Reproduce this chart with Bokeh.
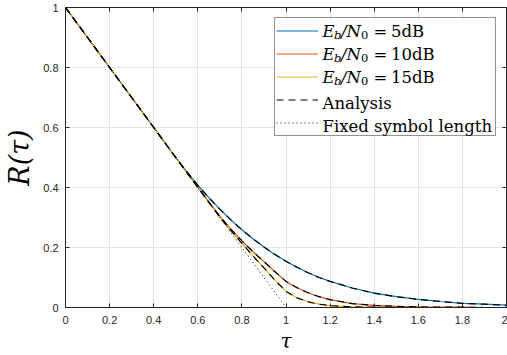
from bokeh.plotting import figure
from bokeh.models import (Range1d, FixedTicker, LinearAxis, Legend, LegendItem,
                          Label, CustomJSTickFormatter, BoxAnnotation)
from bokeh.embed import file_html
from bokeh.resources import INLINE

# ---------------- data ----------------
tau = [0.0, 0.1, 0.2, 0.3, 0.4, 0.5, 0.55, 0.6, 0.65, 0.7, 0.75, 0.8, 0.85, 0.9,
       0.95, 1.0, 1.05, 1.1, 1.15, 1.2, 1.3, 1.4, 1.5, 1.6, 1.7, 1.8, 1.9, 2.0]
r_5db = [1.0, 0.9, 0.8, 0.7, 0.6, 0.5, 0.453, 0.408, 0.366, 0.328, 0.292, 0.259,
         0.229, 0.202, 0.177, 0.154, 0.134, 0.116, 0.100, 0.087, 0.065, 0.048,
         0.036, 0.027, 0.020, 0.014, 0.011, 0.008]
r_10db = [1.0, 0.9, 0.8, 0.7, 0.6, 0.5, 0.45, 0.401, 0.352, 0.304, 0.261, 0.222,
          0.186, 0.153, 0.119, 0.087, 0.066, 0.049, 0.036, 0.026, 0.013, 0.007,
          0.004, 0.002, 0.001, 0.001, 0.0, 0.0]
r_15db = [1.0, 0.9, 0.8, 0.7, 0.6, 0.5, 0.45, 0.4, 0.35, 0.301, 0.256, 0.214,
          0.172, 0.132, 0.091, 0.054, 0.032, 0.019, 0.011, 0.006, 0.002, 0.001,
          0.0, 0.0, 0.0, 0.0, 0.0, 0.0]
fixed_tau = [0.0, 1.0, 2.0]
fixed_r = [1.0, 0.0, 0.0]

snr_labels = ["5dB", "10dB", "15dB"]
x_ticks = [0, 0.2, 0.4, 0.6, 0.8, 1, 1.2, 1.4, 1.6, 1.8, 2]
y_ticks = [0, 0.2, 0.4, 0.6, 0.8, 1]

# ---------------- styles ----------------
colors = ["#0072BD", "#D95319", "#EDB120"]
axis_color = "#262626"
grid_color = "#e3e3e3"
W, H = 507, 355
BL, BR, BT, BB = 65, 1, 7, 48

p = figure(width=W, height=H, x_range=Range1d(0, 2), y_range=Range1d(0, 1),
           output_backend="svg", toolbar_location=None,
           min_border_left=BL, min_border_right=BR, min_border_top=BT,
           min_border_bottom=BB)
p.background_fill_color = "white"
p.border_fill_color = "white"
p.outline_line_color = axis_color
p.outline_line_width = 1

fmt = CustomJSTickFormatter(code="return String(Number(tick.toFixed(1)));")
for ax in (p.xaxis[0], p.yaxis[0]):
    ax.formatter = fmt
    ax.major_tick_in = 4
    ax.major_tick_out = 0
    ax.minor_tick_line_color = None
    ax.axis_line_color = axis_color
    ax.major_tick_line_color = axis_color
    ax.major_label_text_font = "Liberation Sans"
    ax.major_label_text_font_size = "11px"
    ax.major_label_text_color = axis_color
    ax.axis_label_text_font = "DejaVu Serif"
    ax.axis_label_text_font_style = "italic"
    ax.axis_label_text_color = "#000000"
p.xaxis[0].ticker = FixedTicker(ticks=x_ticks)
p.yaxis[0].ticker = FixedTicker(ticks=y_ticks)
p.xaxis[0].major_label_standoff = 8
p.yaxis[0].major_label_standoff = 7
p.xaxis[0].axis_label = "τ"
p.xaxis[0].axis_label_text_font_size = "20px"
p.xaxis[0].axis_label_standoff = 2
p.yaxis[0].axis_label = "R(τ)"
p.yaxis[0].axis_label_text_font_size = "27px"
p.yaxis[0].axis_label_standoff = 5

# ticks on the top and right edges (box on)
for loc, ticks in (("above", x_ticks), ("right", y_ticks)):
    ax = LinearAxis(ticker=FixedTicker(ticks=ticks), major_tick_in=4, major_tick_out=0,
                    minor_tick_line_color=None, axis_line_color=axis_color,
                    major_tick_line_color=axis_color, major_label_text_font_size="0px",
                    major_label_standoff=0)
    ax.major_label_text_color = None
    p.add_layout(ax, loc)

p.xgrid.ticker = FixedTicker(ticks=x_ticks)
p.ygrid.ticker = FixedTicker(ticks=y_ticks)
for g in (p.xgrid[0], p.ygrid[0]):
    g.grid_line_color = grid_color
    g.grid_line_width = 1

# ---------------- data lines ----------------
sim = []
for vals, c in zip((r_5db, r_10db, r_15db), colors):
    sim.append(p.line(tau, vals, line_color=c, line_width=1.2))
ana = []
for vals in (r_5db, r_10db, r_15db):
    ana.append(p.line(tau, vals, line_color="black", line_width=1.2, line_dash="7 5"))
fixed = p.line(fixed_tau, fixed_r, line_color="black", line_width=1, line_dash="1 3")

frame_bottom = BT + 300

# ---------------- legend ----------------
leg_left, leg_top, leg_w = 274, 19, 222
pad, row_h = 1, 23
legend_h = 2 * pad + 5 * row_h

# white background of the legend box (drawn under the text labels)
p.add_layout(BoxAnnotation(left=leg_left - BL, right=leg_left - BL + leg_w,
                           bottom=frame_bottom - (leg_top + legend_h),
                           top=frame_bottom - leg_top,
                           left_units="screen", right_units="screen",
                           bottom_units="screen", top_units="screen",
                           fill_color="white", fill_alpha=1.0, line_color=None))

items = [LegendItem(label=" ", renderers=[r]) for r in sim]
items.append(LegendItem(label=" ", renderers=[ana[0]]))
items.append(LegendItem(label=" ", renderers=[fixed]))
legend = Legend(items=items,
                location=(leg_left - BL, frame_bottom - (leg_top + legend_h)),
                padding=pad, spacing=0, margin=0, glyph_width=42, glyph_height=row_h,
                label_height=row_h, label_width=172, label_standoff=4,
                label_text_font_size="9px", border_line_color=axis_color,
                border_line_width=1, background_fill_alpha=0.0)
p.add_layout(legend)

text_x = 322 - BL
font_main = "16.5px"
font_sub = "11.5px"


def add_label(txt, dx, baseline, size, style):
    p.add_layout(Label(x=text_x + dx, y=frame_bottom - baseline, x_units="screen",
                       y_units="screen", text=txt, text_font="DejaVu Serif",
                       text_font_style=style, text_font_size=size, text_color="black",
                       text_baseline="alphabetic", text_align="left"))


for i, snr in enumerate(snr_labels):
    line_y = leg_top + pad + row_h / 2 + i * row_h
    base = line_y - 1
    add_label("E", 0, base, font_main, "italic")
    add_label("b", 11.5, base + 3.5, font_sub, "italic")
    add_label("/N", 18.5, base, font_main, "italic")
    add_label("0", 38.5, base + 3.5, font_sub, "normal")
    add_label("=", 51, base, font_main, "normal")
    add_label(snr, 68.5, base, font_main, "normal")

for j, txt in enumerate(["Analysis", "Fixed symbol length"]):
    line_y = leg_top + pad + row_h / 2 + (3 + j) * row_h
    add_label(txt, 0, line_y + 2, font_main, "normal")

open("out.html", "w").write(file_html(p, INLINE))
